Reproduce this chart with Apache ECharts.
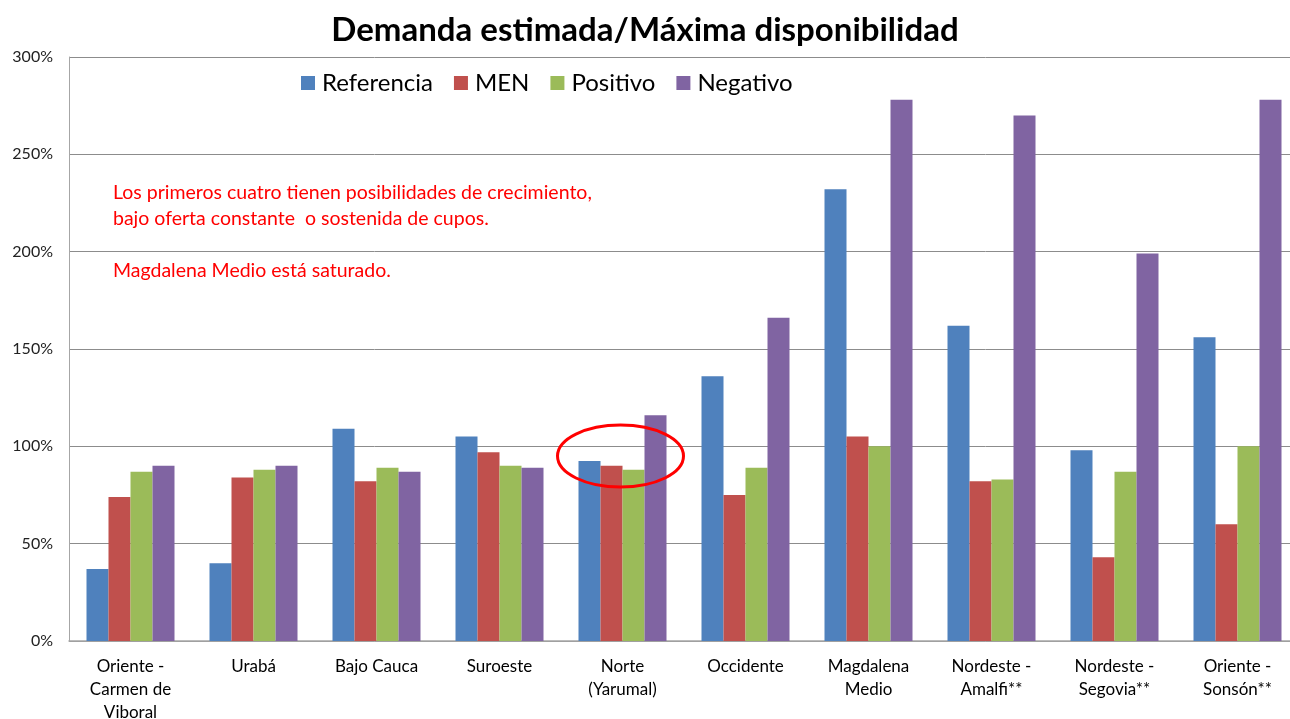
<!DOCTYPE html>
<html><head><meta charset="utf-8">
<script src="https://cdn.jsdelivr.net/npm/echarts@6/dist/echarts.min.js"></script>
<style>html,body{margin:0;padding:0;background:#fff;overflow:hidden}#c{width:1290px;height:719px}</style>
</head><body><div id="c"></div>
<script>
const categories = ['Oriente -\nCarmen de\nViboral', 'Urabá', 'Bajo Cauca', 'Suroeste', 'Norte\n(Yarumal)', 'Occidente', 'Magdalena\nMedio', 'Nordeste -\nAmalfi**', 'Nordeste -\nSegovia**', 'Oriente -\nSonsón**'];
const seriesNames = ['Referencia', 'MEN', 'Positivo', 'Negativo'];
const referencia = [37, 40, 109, 105, 92.5, 136, 232, 162, 98, 156];
const men = [74, 84, 82, 97, 90, 75, 105, 82, 43, 60];
const positivo = [87, 88, 89, 90, 88, 89, 100, 83, 87, 100];
const negativo = [90, 90, 87, 89, 116, 166, 278, 270, 199, 278];
const yTicks = [0, 50, 100, 150, 200, 250, 300];
const colors = ['#4F81BD', '#C0504D', '#9BBB59', '#8064A2'];
const noteLines = ['Los primeros cuatro tienen posibilidades de crecimiento,', 'bajo oferta constante  o sostenida de cupos.', '', 'Magdalena Medio está saturado.'];

const font = 'Lato, "Noto Sans", sans-serif';
const chart = echarts.init(document.getElementById('c'));
const values = [referencia, men, positivo, negativo];
const noteText = {type: 'text', left: 113, top: 180, style: {text: noteLines.join('\n'), fill: '#FF0000',
    font: '19.5px ' + font, lineHeight: 26}};
chart.setOption({
  animation: false,
  title: {text: 'Demanda estimada/Máxima disponibilidad', left: 'center', top: 9,
    textStyle: {fontFamily: font, fontSize: 33, fontWeight: 'bold', color: '#000'}},
  legend: {data: seriesNames, left: 296, top: 66, itemWidth: 14, itemHeight: 14, itemGap: 21,
    icon: 'rect', textStyle: {fontFamily: font, fontSize: 24, color: '#000', padding: [0, 0, 0, 2]}},
  grid: {left: 69, right: -9, top: 57, bottom: 78, containLabel: false, outerBoundsMode: 'none'},
  xAxis: {type: 'category', data: categories,
    axisLine: {lineStyle: {color: '#A6A6A6', width: 1.5}}, axisTick: {show: false},
    axisLabel: {fontFamily: font, fontSize: 17, color: '#000', lineHeight: 23, margin: 14, interval: 0}},
  yAxis: {type: 'value', min: yTicks[0], max: yTicks[yTicks.length - 1], interval: 50,
    axisLine: {show: true, lineStyle: {color: '#A6A6A6'}}, axisTick: {show: false},
    splitLine: {lineStyle: {color: '#8C8C8C', width: 1}},
    axisLabel: {fontFamily: font, fontSize: 16, color: '#222', formatter: v => v + '%', margin: 16}},
  series: seriesNames.map((n, i) => ({name: n, type: 'bar', data: values[i], barWidth: 22, barGap: '0%',
    itemStyle: {color: colors[i]}})),
  graphic: [noteText]
});
const c = chart.convertToPixel({xAxisIndex: 0, yAxisIndex: 0}, [categories[4], 95]);
chart.setOption({graphic: [noteText,
  {type: 'ellipse', shape: {cx: c[0] - 2, cy: c[1], rx: 63, ry: 31}, style: {fill: 'none', stroke: '#FF0000', lineWidth: 3}, z: 100}]});
</script></body></html>
